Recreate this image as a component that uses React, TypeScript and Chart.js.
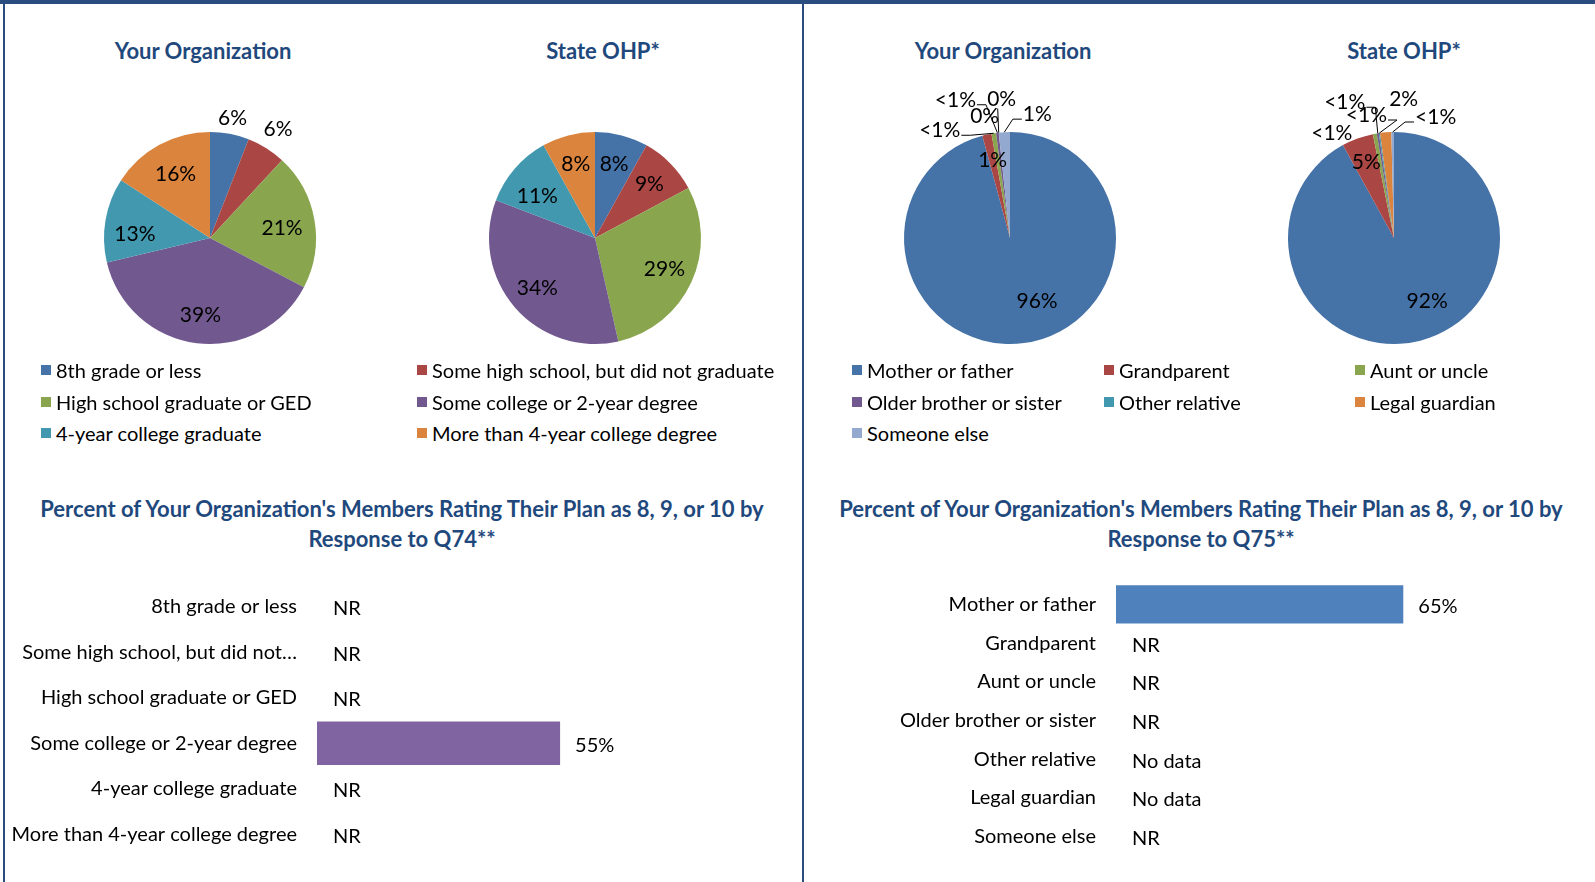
import React, { useEffect, useRef } from "react";
import { Chart, registerables } from "chart.js";
Chart.register(...registerables);

const FONT = "Lato, 'Open Sans', sans-serif";
const TITLE_COLOR = "#1F497D";
const FRAME_COLOR = "#2B4C7E";
const PIE_COLORS = ["#4572A7", "#AA4643", "#89A54E", "#71588F", "#4198AF", "#DB843D", "#93A9CF"];

// ---- Data ----
const educationCategories = [
  "8th grade or less",
  "Some high school, but did not graduate",
  "High school graduate or GED",
  "Some college or 2-year degree",
  "4-year college graduate",
  "More than 4-year college degree",
];
const educationOrgValues = [6, 6, 21, 39, 13, 16];
const educationOrgLabels = ["6%", "6%", "21%", "39%", "13%", "16%"];
const educationStateValues = [8, 9, 29, 34, 11, 8];
const educationStateLabels = ["8%", "9%", "29%", "34%", "11%", "8%"];

const relationCategories = [
  "Mother or father",
  "Grandparent",
  "Aunt or uncle",
  "Older brother or sister",
  "Other relative",
  "Legal guardian",
  "Someone else",
];
const relationOrgValues = [95.8, 1.4, 0.7, 0.4, 0, 0, 1.7];
const relationOrgLabels = ["96%", "1%", "<1%", "<1%", "0%", "0%", "1%"];
const relationStateValues = [92, 4.8, 0.6, 0.3, 0.2, 1.7, 0.4];
const relationStateLabels = ["92%", "5%", "<1%", "<1%", "<1%", "2%", "<1%"];

const q74Values = [null, null, null, 55, null, null];
const q74Labels = ["NR", "NR", "NR", "55%", "NR", "NR"];
const q75Values = [65, null, null, null, null, null, null];
const q75Labels = ["65%", "NR", "NR", "NR", "No data", "No data", "NR"];

// ---- Label placement styles (fraction of radius + pixel nudges) ----
type Spec = { f: number; dx?: number; dy?: number; leader?: boolean };
const eduOrgSpecs: Spec[] = [
  { f: 1.15 }, { f: 1.21 }, { f: 0.69, dy: 3 }, { f: 0.73 }, { f: 0.7, dx: -2, dy: 9 }, { f: 0.68 },
];
const eduStateSpecs: Spec[] = [
  { f: 0.72 }, { f: 0.72 }, { f: 0.72 }, { f: 0.72 }, { f: 0.72, dy: 8 }, { f: 0.72 },
];
const relOrgSpecs: Spec[] = [
  { f: 0.65, dx: 18, dy: -5 },
  { f: 0.75 },
  { f: 1, dx: -54, dy: -3, leader: true },
  { f: 1, dx: -42, dy: -33, leader: true },
  { f: 1, dx: -14, dy: -16 },
  { f: 1, dx: 3, dy: -33, leader: true },
  { f: 1, dx: 33, dy: -18, leader: true },
];
const relStateSpecs: Spec[] = [
  { f: 0.65, dx: 16, dy: -4 },
  { f: 0.76 },
  { f: 1, dx: -43, dy: -1 },
  { f: 1, dx: -33, dy: -31, leader: true },
  { f: 1, dx: -13, dy: -18, leader: true },
  { f: 1, dx: 18, dy: -33 },
  { f: 1, dx: 43, dy: -15, leader: true },
];

const pieLabelPlugin = {
  id: "pieLabels",
  afterDatasetsDraw(chart: any, _args: any, opts: any) {
    const { ctx } = chart;
    const meta = chart.getDatasetMeta(0);
    const labels: string[] = opts.labels;
    const specs: Spec[] = opts.specs;
    ctx.save();
    ctx.font = `21px ${FONT}`;
    ctx.fillStyle = "#000";
    ctx.strokeStyle = "#000";
    ctx.lineWidth = 1;
    ctx.textAlign = "center";
    ctx.textBaseline = "middle";
    meta.data.forEach((arc: any, i: number) => {
      const { x, y, startAngle, endAngle, outerRadius } = arc.getProps(
        ["x", "y", "startAngle", "endAngle", "outerRadius"],
        true
      );
      const mid = (startAngle + endAngle) / 2;
      const s = specs[i];
      const ax = x + Math.cos(mid) * outerRadius * s.f;
      const ay = y + Math.sin(mid) * outerRadius * s.f;
      const dx = s.dx || 0;
      const dy = s.dy || 0;
      const lx = ax + dx;
      const ly = ay + dy;
      ctx.fillText(labels[i], lx, ly);
      if (s.leader) {
        const w = ctx.measureText(labels[i]).width;
        ctx.beginPath();
        if (Math.abs(dx) < 10) {
          ctx.moveTo(lx - 4, ly + 9);
          ctx.lineTo(ax, ay);
        } else {
          const side = dx < 0 ? 1 : -1;
          const sx = lx + side * (w / 2 + 1);
          const sy = ly + 5;
          ctx.moveTo(sx, sy);
          ctx.lineTo(sx + side * 9, sy);
          ctx.lineTo(ax, ay);
        }
        ctx.stroke();
      }
    });
    ctx.restore();
  },
};

const barLabelPlugin = {
  id: "barLabels",
  afterDatasetsDraw(chart: any, _args: any, opts: any) {
    const { ctx } = chart;
    const meta = chart.getDatasetMeta(0);
    const xScale = chart.scales.x;
    const yScale = chart.scales.y;
    const labels: string[] = opts.labels;
    const values = chart.data.datasets[0].data;
    ctx.save();
    ctx.font = `20px ${FONT}`;
    ctx.fillStyle = "#000";
    ctx.textAlign = "left";
    ctx.textBaseline = "middle";
    labels.forEach((lab, i) => {
      const v = values[i];
      const y = yScale.getPixelForValue(i) + 2;
      const x = v == null ? xScale.getPixelForValue(0) + 16 : meta.data[i].x + 15;
      ctx.fillText(lab, x, y);
    });
    ctx.restore();
  },
};

function PieChart(props: { cats: string[]; values: number[]; labels: string[]; specs: Spec[]; cx: number; cy: number }) {
  const ref = useRef<HTMLCanvasElement>(null);
  useEffect(() => {
    const chart = new Chart(ref.current as HTMLCanvasElement, {
      type: "pie",
      data: {
        labels: props.cats,
        datasets: [{ data: props.values, backgroundColor: PIE_COLORS.slice(0, props.values.length), borderWidth: 0 }],
      },
      options: {
        responsive: false,
        animation: false,
        radius: 106,
        layout: { padding: 0 },
        plugins: {
          legend: { display: false },
          tooltip: { enabled: false },
          pieLabels: { labels: props.labels, specs: props.specs },
        } as any,
      } as any,
      plugins: [pieLabelPlugin as any],
    });
    return () => chart.destroy();
  }, []);
  return (
    <canvas
      ref={ref}
      width={320}
      height={320}
      style={{ position: "absolute", left: props.cx - 160, top: props.cy - 160 }}
    />
  );
}

const AXIS_W = 312;

function BarChart(props: {
  cats: string[];
  values: (number | null)[];
  labels: string[];
  color: string;
  left: number;
  top: number;
  height: number;
  barPct: number;
}) {
  const ref = useRef<HTMLCanvasElement>(null);
  useEffect(() => {
    const chart = new Chart(ref.current as HTMLCanvasElement, {
      type: "bar",
      data: {
        labels: props.cats,
        datasets: [
          {
            data: props.values as any,
            backgroundColor: props.color,
            categoryPercentage: 1,
            barPercentage: props.barPct,
          },
        ],
      },
      options: {
        indexAxis: "y",
        responsive: false,
        animation: false,
        layout: { padding: 0 },
        scales: {
          x: { display: false, min: 0, max: 100 },
          y: {
            grid: { display: false, drawTicks: false },
            border: { display: false },
            afterFit: (s: any) => {
              s.width = AXIS_W;
              s.paddingTop = 0;
              s.paddingBottom = 0;
            },
            ticks: {
              padding: 20,
              color: "#000",
              font: { family: FONT, size: 20 },
              callback: function (this: any, v: any) {
                const s: string = this.getLabelForValue(v);
                return s.length > 32 ? s.slice(0, 29) + "\u2026" : s;
              },
            },
          },
        },
        plugins: {
          legend: { display: false },
          tooltip: { enabled: false },
          barLabels: { labels: props.labels },
        } as any,
      } as any,
      plugins: [barLabelPlugin as any],
    });
    return () => chart.destroy();
  }, []);
  return (
    <canvas
      ref={ref}
      width={AXIS_W + 442}
      height={props.height}
      style={{ position: "absolute", left: props.left - AXIS_W, top: props.top }}
    />
  );
}

function Title(props: { text: string[]; cx: number; y: number; width: number }) {
  return (
    <div
      style={{
        position: "absolute",
        left: props.cx - props.width / 2,
        top: props.y - 15,
        width: props.width,
        textAlign: "center",
        fontFamily: FONT,
        fontWeight: 700,
        fontSize: 22,
        lineHeight: "30px",
        color: TITLE_COLOR,
        whiteSpace: "nowrap",
      }}
    >
      {props.text.map((t, i) => (
        <div key={i}>{t}</div>
      ))}
    </div>
  );
}

function Legend(props: { cats: string[]; cols: number[]; rows: number[] }) {
  return (
    <>
      {props.cats.map((c, i) => {
        const col = i % props.cols.length;
        const row = Math.floor(i / props.cols.length);
        return (
          <div
            key={c}
            style={{
              position: "absolute",
              left: props.cols[col],
              top: props.rows[row] - 13,
              height: 26,
              display: "flex",
              alignItems: "center",
              fontFamily: FONT,
              fontSize: 20,
              color: "#000",
              whiteSpace: "nowrap",
            }}
          >
            <span style={{ display: "inline-block", width: 10, height: 10, background: PIE_COLORS[i], marginRight: 5 }} />
            {c}
          </div>
        );
      })}
    </>
  );
}

export default function App() {
  return (
    <div style={{ position: "absolute", left: 0, top: 0, width: 1595, height: 882, background: "#fff", overflow: "hidden" }}>
      <div style={{ position: "absolute", left: 0, top: 0, width: 1595, height: 4, background: FRAME_COLOR }} />
      <div style={{ position: "absolute", left: 3, top: 0, width: 2, height: 882, background: FRAME_COLOR }} />
      <div style={{ position: "absolute", left: 802, top: 0, width: 2, height: 882, background: FRAME_COLOR }} />

      <Title text={["Your Organization"]} cx={203} y={51} width={300} />
      <Title text={["State OHP*"]} cx={603} y={51} width={300} />
      <Title text={["Your Organization"]} cx={1003} y={51} width={300} />
      <Title text={["State OHP*"]} cx={1404} y={51} width={300} />

      <PieChart cats={educationCategories} values={educationOrgValues} labels={educationOrgLabels} specs={eduOrgSpecs} cx={210} cy={238} />
      <PieChart cats={educationCategories} values={educationStateValues} labels={educationStateLabels} specs={eduStateSpecs} cx={595} cy={238} />
      <PieChart cats={relationCategories} values={relationOrgValues} labels={relationOrgLabels} specs={relOrgSpecs} cx={1010} cy={238} />
      <PieChart cats={relationCategories} values={relationStateValues} labels={relationStateLabels} specs={relStateSpecs} cx={1394} cy={238} />

      <Legend cats={educationCategories} cols={[41, 417]} rows={[370, 402, 433]} />
      <Legend cats={relationCategories} cols={[852, 1104, 1355]} rows={[370, 402, 433]} />

      <Title
        text={["Percent of Your Organization's Members Rating Their Plan as 8, 9, or 10 by", "Response to Q74**"]}
        cx={402}
        y={509}
        width={790}
      />
      <Title
        text={["Percent of Your Organization's Members Rating Their Plan as 8, 9, or 10 by", "Response to Q75**"]}
        cx={1201}
        y={509}
        width={790}
      />

      <BarChart cats={educationCategories} values={q74Values} labels={q74Labels} color="#8064A2" left={317} top={584} height={273} barPct={0.96} />
      <BarChart cats={relationCategories} values={q75Values} labels={q75Labels} color="#4F81BD" left={1116} top={585} height={271} barPct={0.99} />
    </div>
  );
}
